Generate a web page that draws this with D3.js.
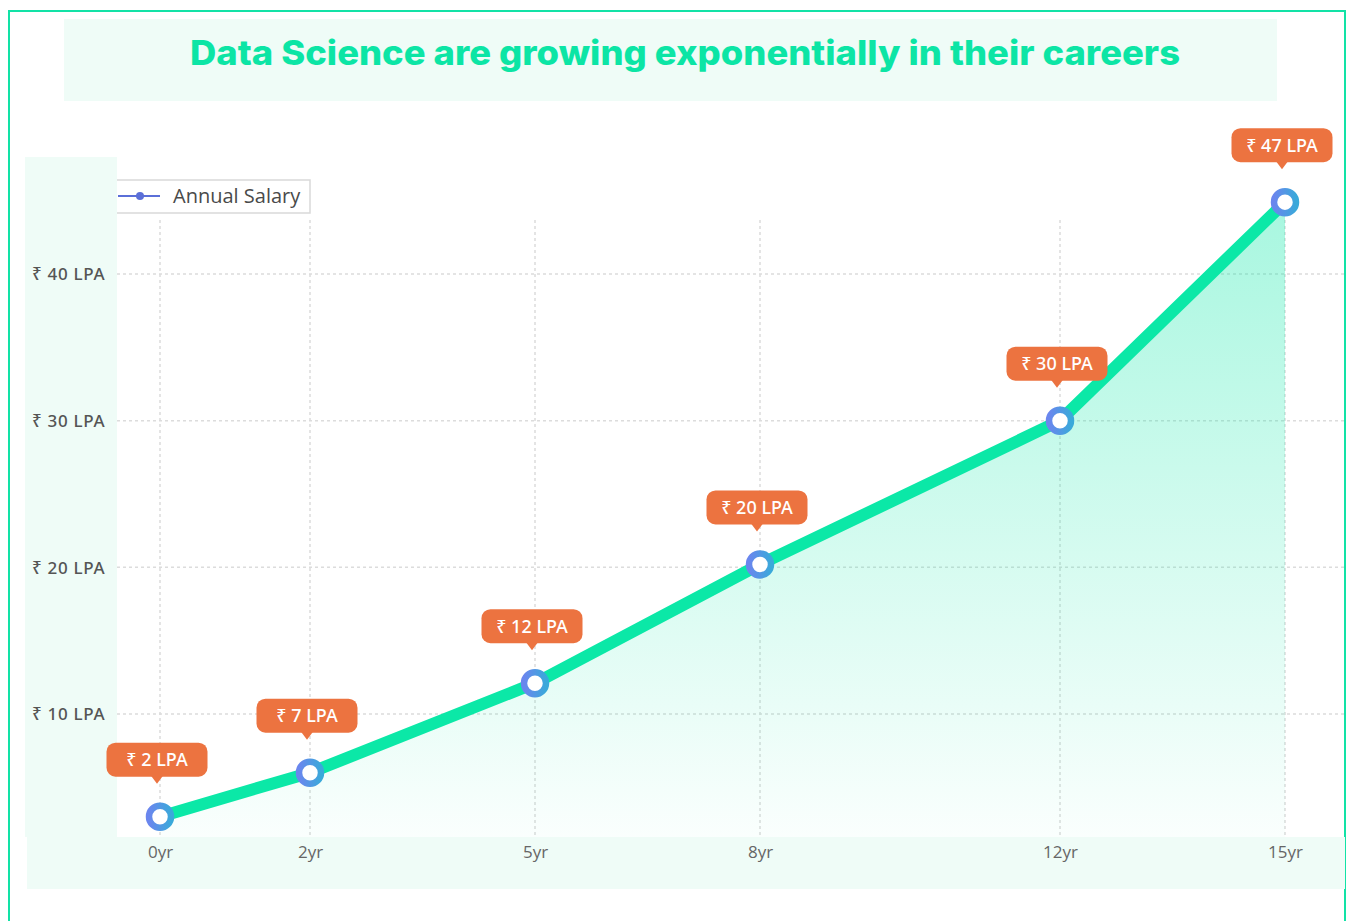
<!DOCTYPE html>
<html>
<head>
<meta charset="utf-8">
<script src="https://cdn.jsdelivr.net/npm/d3@7"></script>
<style>
  html, body { margin: 0; padding: 0; background: #fff; }
  svg { display: block; }
</style>
</head>
<body>
<div id="chart"></div>
<script>
// chart data
const years = [0, 2, 5, 8, 12, 15];
const yearLabels = ["0yr", "2yr", "5yr", "8yr", "12yr", "15yr"];
const salary = [3, 6, 12.1, 20.2, 30, 44.9];
const salaryLabels = ["₹ 2 LPA", "₹ 7 LPA", "₹ 12 LPA", "₹ 20 LPA", "₹ 30 LPA", "₹ 47 LPA"];
const yTicks = [10, 20, 30, 40];
const yTickLabels = ["₹ 10 LPA", "₹ 20 LPA", "₹ 30 LPA", "₹ 40 LPA"];
const title = "Data Science are growing exponentially in their careers";
const seriesName = "Annual Salary";

const W = 1347, H = 921;
const mint = "#0be8a7";
const panel = "#effcf7";

const svg = d3.select("#chart").append("svg")
  .attr("width", W)
  .attr("height", H);

const defs = svg.append("defs");

const areaGrad = defs.append("linearGradient")
  .attr("id", "areaGrad")
  .attr("gradientUnits", "userSpaceOnUse")
  .attr("x1", 0).attr("y1", 200).attr("x2", 0).attr("y2", 837);
areaGrad.append("stop").attr("offset", 0).attr("stop-color", mint).attr("stop-opacity", 0.36);
areaGrad.append("stop").attr("offset", 1).attr("stop-color", mint).attr("stop-opacity", 0.02);

const ringGrad = defs.append("linearGradient")
  .attr("id", "ringGrad")
  .attr("x1", 0).attr("y1", 0).attr("x2", 1).attr("y2", 0);
ringGrad.append("stop").attr("offset", 0).attr("stop-color", "#6a86ee");
ringGrad.append("stop").attr("offset", 1).attr("stop-color", "#3aa9da");

// outer frame
svg.append("rect")
  .attr("x", 9).attr("y", 11)
  .attr("width", 1336).attr("height", 925)
  .attr("fill", "none")
  .attr("stroke", "#12e2a6")
  .attr("stroke-width", 2);

// title band
svg.append("rect")
  .attr("x", 64).attr("y", 19)
  .attr("width", 1213).attr("height", 82)
  .attr("fill", panel);

svg.append("text")
  .attr("x", 685).attr("y", 65)
  .attr("text-anchor", "middle")
  .attr("font-family", "Inter, 'Noto Sans', sans-serif")
  .attr("font-weight", 800)
  .attr("font-size", 34)
  .attr("fill", "#0ce5a5")
  .attr("textLength", 990)
  .attr("lengthAdjust", "spacingAndGlyphs")
  .text(title);

// scales
const x = d3.scaleLinear().domain([0, 15]).range([160, 1285]);
const y = d3.scaleLinear().domain([10, 40]).range([714, 274]);
const plotBottom = 837;

// grid
const grid = svg.append("g");
grid.selectAll("line.h")
  .data(yTicks)
  .join("line")
  .attr("x1", 117).attr("x2", 1345)
  .attr("y1", d => y(d)).attr("y2", d => y(d))
  .attr("stroke", "#dcdcdc")
  .attr("stroke-width", 1.5)
  .attr("stroke-dasharray", "3,3");
grid.selectAll("line.v")
  .data(years)
  .join("line")
  .attr("x1", d => x(d)).attr("x2", d => x(d))
  .attr("y1", 220).attr("y2", plotBottom)
  .attr("stroke", "#dcdcdc")
  .attr("stroke-width", 1.5)
  .attr("stroke-dasharray", "3,3");

const pts = years.map((d, i) => [d, salary[i]]);

// area
svg.append("path")
  .datum(pts)
  .attr("fill", "url(#areaGrad)")
  .attr("d", d3.area()
    .x(d => x(d[0]))
    .y0(plotBottom)
    .y1(d => y(d[1])));

// line
svg.append("path")
  .datum(pts)
  .attr("fill", "none")
  .attr("stroke", mint)
  .attr("stroke-width", 12)
  .attr("stroke-linejoin", "round")
  .attr("d", d3.line()
    .x(d => x(d[0]))
    .y(d => y(d[1])));

// legend
const legend = svg.append("g");
legend.append("rect")
  .attr("x", 100).attr("y", 180)
  .attr("width", 210).attr("height", 33)
  .attr("fill", "#fff")
  .attr("stroke", "#d9d9d9")
  .attr("stroke-width", 1.5);
legend.append("line")
  .attr("x1", 118).attr("x2", 160)
  .attr("y1", 196).attr("y2", 196)
  .attr("stroke", "#5b6fd8")
  .attr("stroke-width", 2);
legend.append("circle")
  .attr("cx", 140).attr("cy", 196).attr("r", 4)
  .attr("fill", "#5b6fd8");
legend.append("text")
  .attr("x", 173).attr("y", 203)
  .attr("font-family", "'Open Sans', sans-serif")
  .attr("font-size", 20)
  .attr("fill", "#4a4a4a")
  .text(seriesName);

// y axis panel
svg.append("rect")
  .attr("x", 25).attr("y", 157)
  .attr("width", 92).attr("height", plotBottom - 157)
  .attr("fill", panel);

// x axis panel
svg.append("rect")
  .attr("x", 27).attr("y", plotBottom)
  .attr("width", 1318).attr("height", 52)
  .attr("fill", panel);

// y axis
const yAxis = svg.append("g")
  .attr("transform", "translate(32,0)")
  .call(d3.axisLeft(y).tickValues(yTicks).tickSize(0)
    .tickFormat((d, i) => yTickLabels[i]));
yAxis.select(".domain").remove();
yAxis.selectAll("text")
  .attr("x", 0)
  .attr("text-anchor", "start")
  .attr("dy", "0.35em")
  .attr("font-family", "'Noto Sans', sans-serif")
  .attr("font-size", 17)
  .attr("font-weight", 500)
  .attr("letter-spacing", 0.7)
  .attr("fill", "#555");

// x axis
const xAxis = svg.append("g")
  .attr("transform", "translate(0," + plotBottom + ")")
  .call(d3.axisBottom(x).tickValues(years).tickSize(0)
    .tickFormat((d, i) => yearLabels[i]));
xAxis.select(".domain").remove();
xAxis.selectAll("text")
  .attr("y", 9)
  .attr("dy", "0.71em")
  .attr("font-family", "'Open Sans', sans-serif")
  .attr("font-size", 17)
  .attr("fill", "#666");

// markers
svg.append("g").selectAll("circle")
  .data(pts)
  .join("circle")
  .attr("cx", d => x(d[0]))
  .attr("cy", d => y(d[1]))
  .attr("r", 11)
  .attr("fill", "#fff")
  .attr("stroke", "url(#ringGrad)")
  .attr("stroke-width", 6.5);

// callouts
const bw = 101, bh = 34, gap = 40;
const callouts = svg.append("g").selectAll("g")
  .data(pts)
  .join("g")
  .attr("transform", d => "translate(" + (x(d[0]) - 3) + "," + (y(d[1]) - gap) + ")");
callouts.append("rect")
  .attr("x", -bw / 2).attr("y", -bh)
  .attr("width", bw).attr("height", bh)
  .attr("rx", 9)
  .attr("fill", "#ec7340");
callouts.append("path")
  .attr("d", "M-6,-1 L6,-1 L0,7 Z")
  .attr("fill", "#ec7340");
callouts.append("text")
  .attr("x", 0).attr("y", -bh / 2)
  .attr("dy", "0.36em")
  .attr("text-anchor", "middle")
  .attr("font-family", "'Noto Sans', sans-serif")
  .attr("font-size", 18)
  .attr("font-weight", 500)
  .attr("fill", "#fff")
  .text((d, i) => salaryLabels[i]);
</script>
</body>
</html>
